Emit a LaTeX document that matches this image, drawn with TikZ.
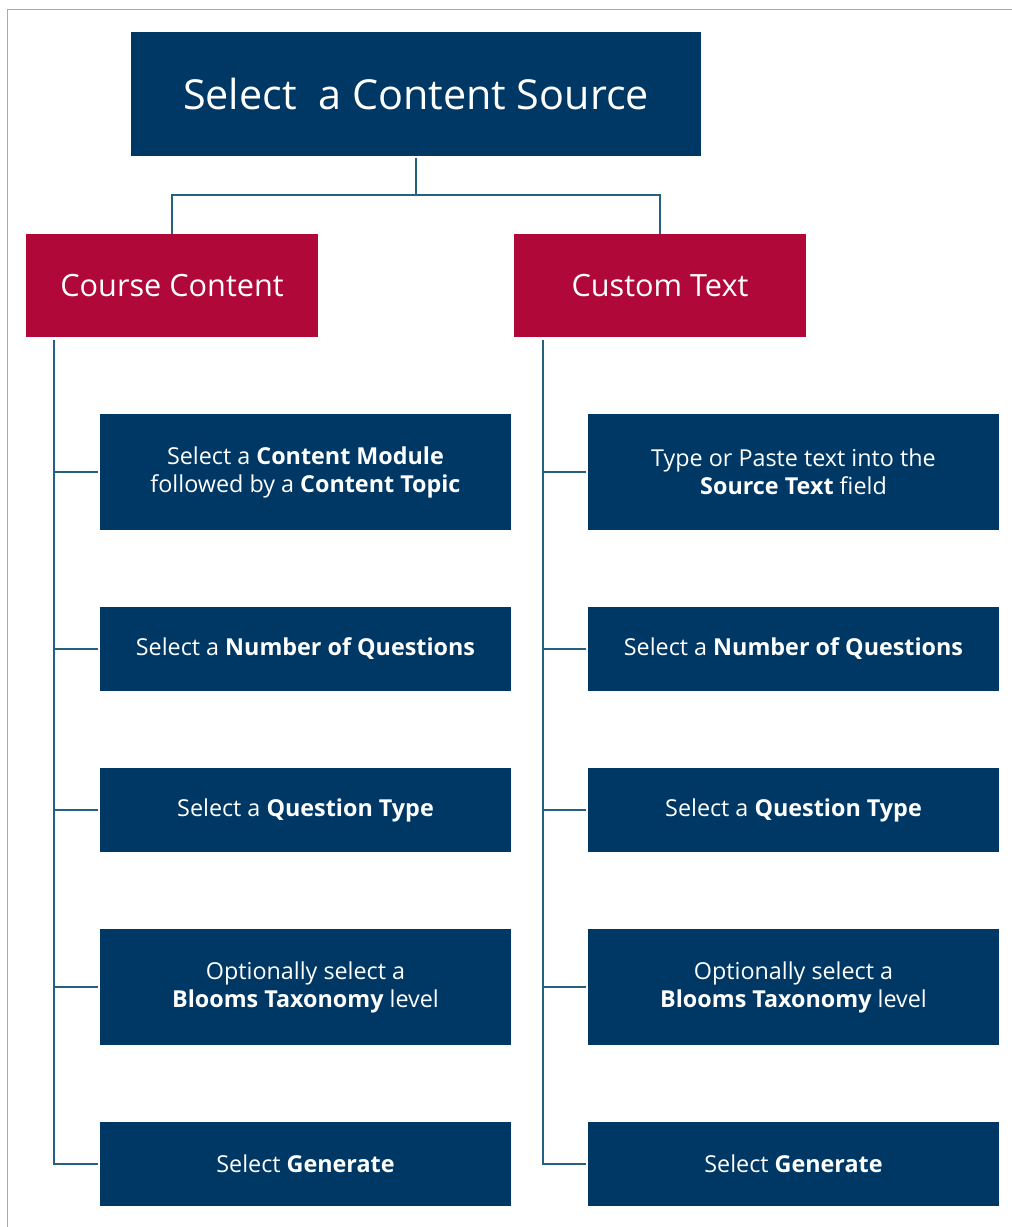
\documentclass[tikz,border=0pt]{standalone}
\usepackage{fontspec}
\setmainfont{Open Sans}
\usepackage{xcolor}
\usepackage{tikz}
\usetikzlibrary{positioning}

\definecolor{navy}{RGB}{0,56,101}
\definecolor{crimson}{RGB}{176,8,57}
\definecolor{linkblue}{RGB}{36,96,128}
\definecolor{framegray}{RGB}{170,170,170}

\tikzset{
    headbox/.style={fill=navy, text=white, inner sep=0pt, minimum width=427.5pt, minimum height=93pt, font=\fontsize{31}{36}\selectfont},
    srcbox/.style={fill=crimson, text=white, inner sep=0pt, minimum width=219pt, minimum height=77.25pt, font=\fontsize{23}{28}\selectfont},
    stepbox/.style={fill=navy, text=white, inner sep=0pt, minimum width=308.25pt, minimum height=63pt, align=center, font=\fontsize{17.5}{21}\selectfont},
    tallbox/.style={stepbox, minimum height=87pt},
    link/.style={draw=linkblue, line width=1.3pt}
}

\begin{document}
\begin{tikzpicture}[x=0.75pt, y=-0.75pt]
    % frame
    \useasboundingbox (0,0) rectangle (1012,1227);
    \draw[framegray, line width=1pt] (1012,9.5) -- (7.5,9.5) -- (7.5,1227);

    % top
    \node[headbox] (src) at (416,94) {Select\ \ a Content Source};
    \node[srcbox] (course) at (172,285.5) {Course Content};
    \node[srcbox] (custom) at (660,285.5) {Custom Text};
    \coordinate (fork) at (416,195);
    \draw[link] ([yshift=-1pt]src.south) -- (fork) -| (course.north);
    \draw[link] (fork) -| (custom.north);

    % course content steps
    \node[tallbox] (c1) at (305.5,472) {Select a \textbf{Content Module}\\followed by a \textbf{Content Topic}};
    \node[stepbox] (c2) at (305.5,649) {Select a \textbf{Number of Questions}};
    \node[stepbox] (c3) at (305.5,810) {Select a \textbf{Question Type}};
    \node[tallbox] (c4) at (305.5,987) {Optionally select a\\\textbf{Blooms Taxonomy} level};
    \node[stepbox] (c5) at (305.5,1164) {Select \textbf{Generate}};

    % custom text steps
    \node[tallbox] (t1) at (793.5,472) {Type or Paste text into the\\\textbf{Source Text} field};
    \node[stepbox] (t2) at (793.5,649) {Select a \textbf{Number of Questions}};
    \node[stepbox] (t3) at (793.5,810) {Select a \textbf{Question Type}};
    \node[tallbox] (t4) at (793.5,987) {Optionally select a\\\textbf{Blooms Taxonomy} level};
    \node[stepbox] (t5) at (793.5,1164) {Select \textbf{Generate}};

    % spines
    \coordinate (ctop) at (54,340);
    \coordinate (ttop) at (543,340);
    \draw[link] (ctop) |- ([xshift=-1.5pt]c5.west);
    \draw[link] (ttop) |- ([xshift=-1.5pt]t5.west);
    \foreach \i in {1,...,4} {
        \draw[link] ([xshift=-1.5pt]c\i.west) -- (c\i.west -| ctop);
        \draw[link] ([xshift=-1.5pt]t\i.west) -- (t\i.west -| ttop);
    }
\end{tikzpicture}
\end{document}
